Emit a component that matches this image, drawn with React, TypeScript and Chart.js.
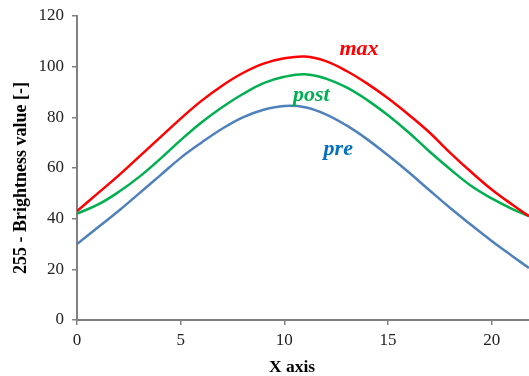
import React, { useEffect, useRef } from "react";
import { Chart, registerables } from "chart.js";

Chart.register(...registerables);

const xValues = [0, 1, 2, 3, 4, 5, 6, 7, 8, 9, 10, 11, 12, 13, 14, 15, 16, 17, 18, 19, 20, 21, 21.8];
const maxValues = [43, 50, 57, 64.5, 72, 79.5, 86.5, 92.5, 97.5, 101.2, 103.3, 104, 102.2, 98.3, 93.3, 87.5, 81, 74, 66, 58.5, 51.5, 45.5, 41];
const postValues = [42, 45.5, 50.5, 56.5, 63.5, 71, 78, 84, 89.2, 93.5, 96, 97, 95.3, 91.8, 86.8, 80.8, 74, 66.5, 59.5, 53, 48, 43.8, 41];
const preValues = [30, 36.5, 43, 50, 57, 64, 70, 75.5, 80, 83, 84.5, 84, 81.2, 76.8, 71.3, 65, 58.3, 51.2, 44.2, 37.6, 31.2, 25.2, 20.5];

const seriesNames = ["max", "post", "pre"];
const seriesColors = ["#FF0000", "#00B050", "#4F81BD"];
const labelColors = ["#FF0000", "#00B050", "#0070C0"];
const labelX = [13.6, 11.3, 12.6];
const labelY = [104.5, 86.5, 65];

const yTicks = [0, 20, 40, 60, 80, 100, 120];
const xTicks = [0, 5, 10, 15, 20];
const xTitle = "X axis";
const yTitle = "255 - Brightness value [-]";

export default function App() {
  const ref = useRef<HTMLCanvasElement | null>(null);

  useEffect(() => {
    const canvas = ref.current;
    if (!canvas) return;
    const seriesData = [maxValues, postValues, preValues];
    const labelPlugin = {
      id: "seriesLabels",
      afterDatasetsDraw(chart: any) {
        const { ctx, scales } = chart;
        ctx.save();
        ctx.font = "italic bold 22px 'Liberation Serif'";
        ctx.textAlign = "center";
        ctx.textBaseline = "alphabetic";
        seriesNames.forEach((n, i) => {
          ctx.fillStyle = labelColors[i];
          ctx.fillText(n, scales.x.getPixelForValue(labelX[i]), scales.y.getPixelForValue(labelY[i]));
        });
        // axis titles
        ctx.fillStyle = "#000";
        ctx.font = "bold 17.5px 'Liberation Serif'";
        ctx.textBaseline = "middle";
        ctx.fillText(xTitle, 292, 367);
        ctx.save();
        ctx.translate(21, 178);
        ctx.rotate(-Math.PI / 2);
        ctx.font = "bold 18px 'Liberation Serif'";
        ctx.fillText(yTitle, 0, 0);
        ctx.restore();
        ctx.restore();
      },
    };
    const chart = new Chart(canvas, {
      type: "scatter",
      data: {
        datasets: seriesNames.map((n, i) => ({
          label: n,
          data: xValues.map((x, j) => ({ x, y: seriesData[i][j] })),
          showLine: true,
          borderColor: seriesColors[i],
          backgroundColor: seriesColors[i],
          borderWidth: 2.5,
          pointRadius: 0,
          tension: 0.4,
        })),
      },
      options: {
        animation: false,
        responsive: false,
        devicePixelRatio: 1,
        layout: { padding: { top: 16, right: 0, left: 0, bottom: 0 } },
        plugins: { legend: { display: false }, tooltip: { enabled: false } },
        scales: {
          x: {
            type: "linear",
            min: 0,
            max: 21.8,
            afterBuildTicks: (s: any) => {
              s.ticks = xTicks.map((v) => ({ value: v }));
            },
            afterFit: (s: any) => {
              s.height = 56;
              s.paddingLeft = 0;
              s.paddingRight = 0;
            },
            grid: { drawOnChartArea: false, drawTicks: true, tickLength: 5, color: "#808080", lineWidth: 1.5 },
            border: { color: "#808080", width: 2 },
            ticks: { color: "#222", font: { family: "'Liberation Serif'", size: 17 }, padding: 5, maxRotation: 0 },
          },
          y: {
            type: "linear",
            min: 0,
            max: 120,
            afterBuildTicks: (s: any) => {
              s.ticks = yTicks.map((v) => ({ value: v }));
            },
            afterFit: (s: any) => {
              s.width = 77;
              s.paddingTop = 0;
              s.paddingBottom = 0;
            },
            grid: { drawOnChartArea: false, drawTicks: true, tickLength: 5, color: "#808080", lineWidth: 1.5 },
            border: { color: "#808080", width: 2 },
            ticks: { color: "#222", font: { family: "'Liberation Serif'", size: 17 }, padding: 8 },
          },
        },
      },
      plugins: [labelPlugin],
    });
    return () => chart.destroy();
  }, []);

  return (
    <div style={{ position: "absolute", left: 0, top: 0, width: 529, height: 376, background: "#fff" }}>
      <canvas ref={ref} width={529} height={376} style={{ display: "block", width: 529, height: 376 }} />
    </div>
  );
}
